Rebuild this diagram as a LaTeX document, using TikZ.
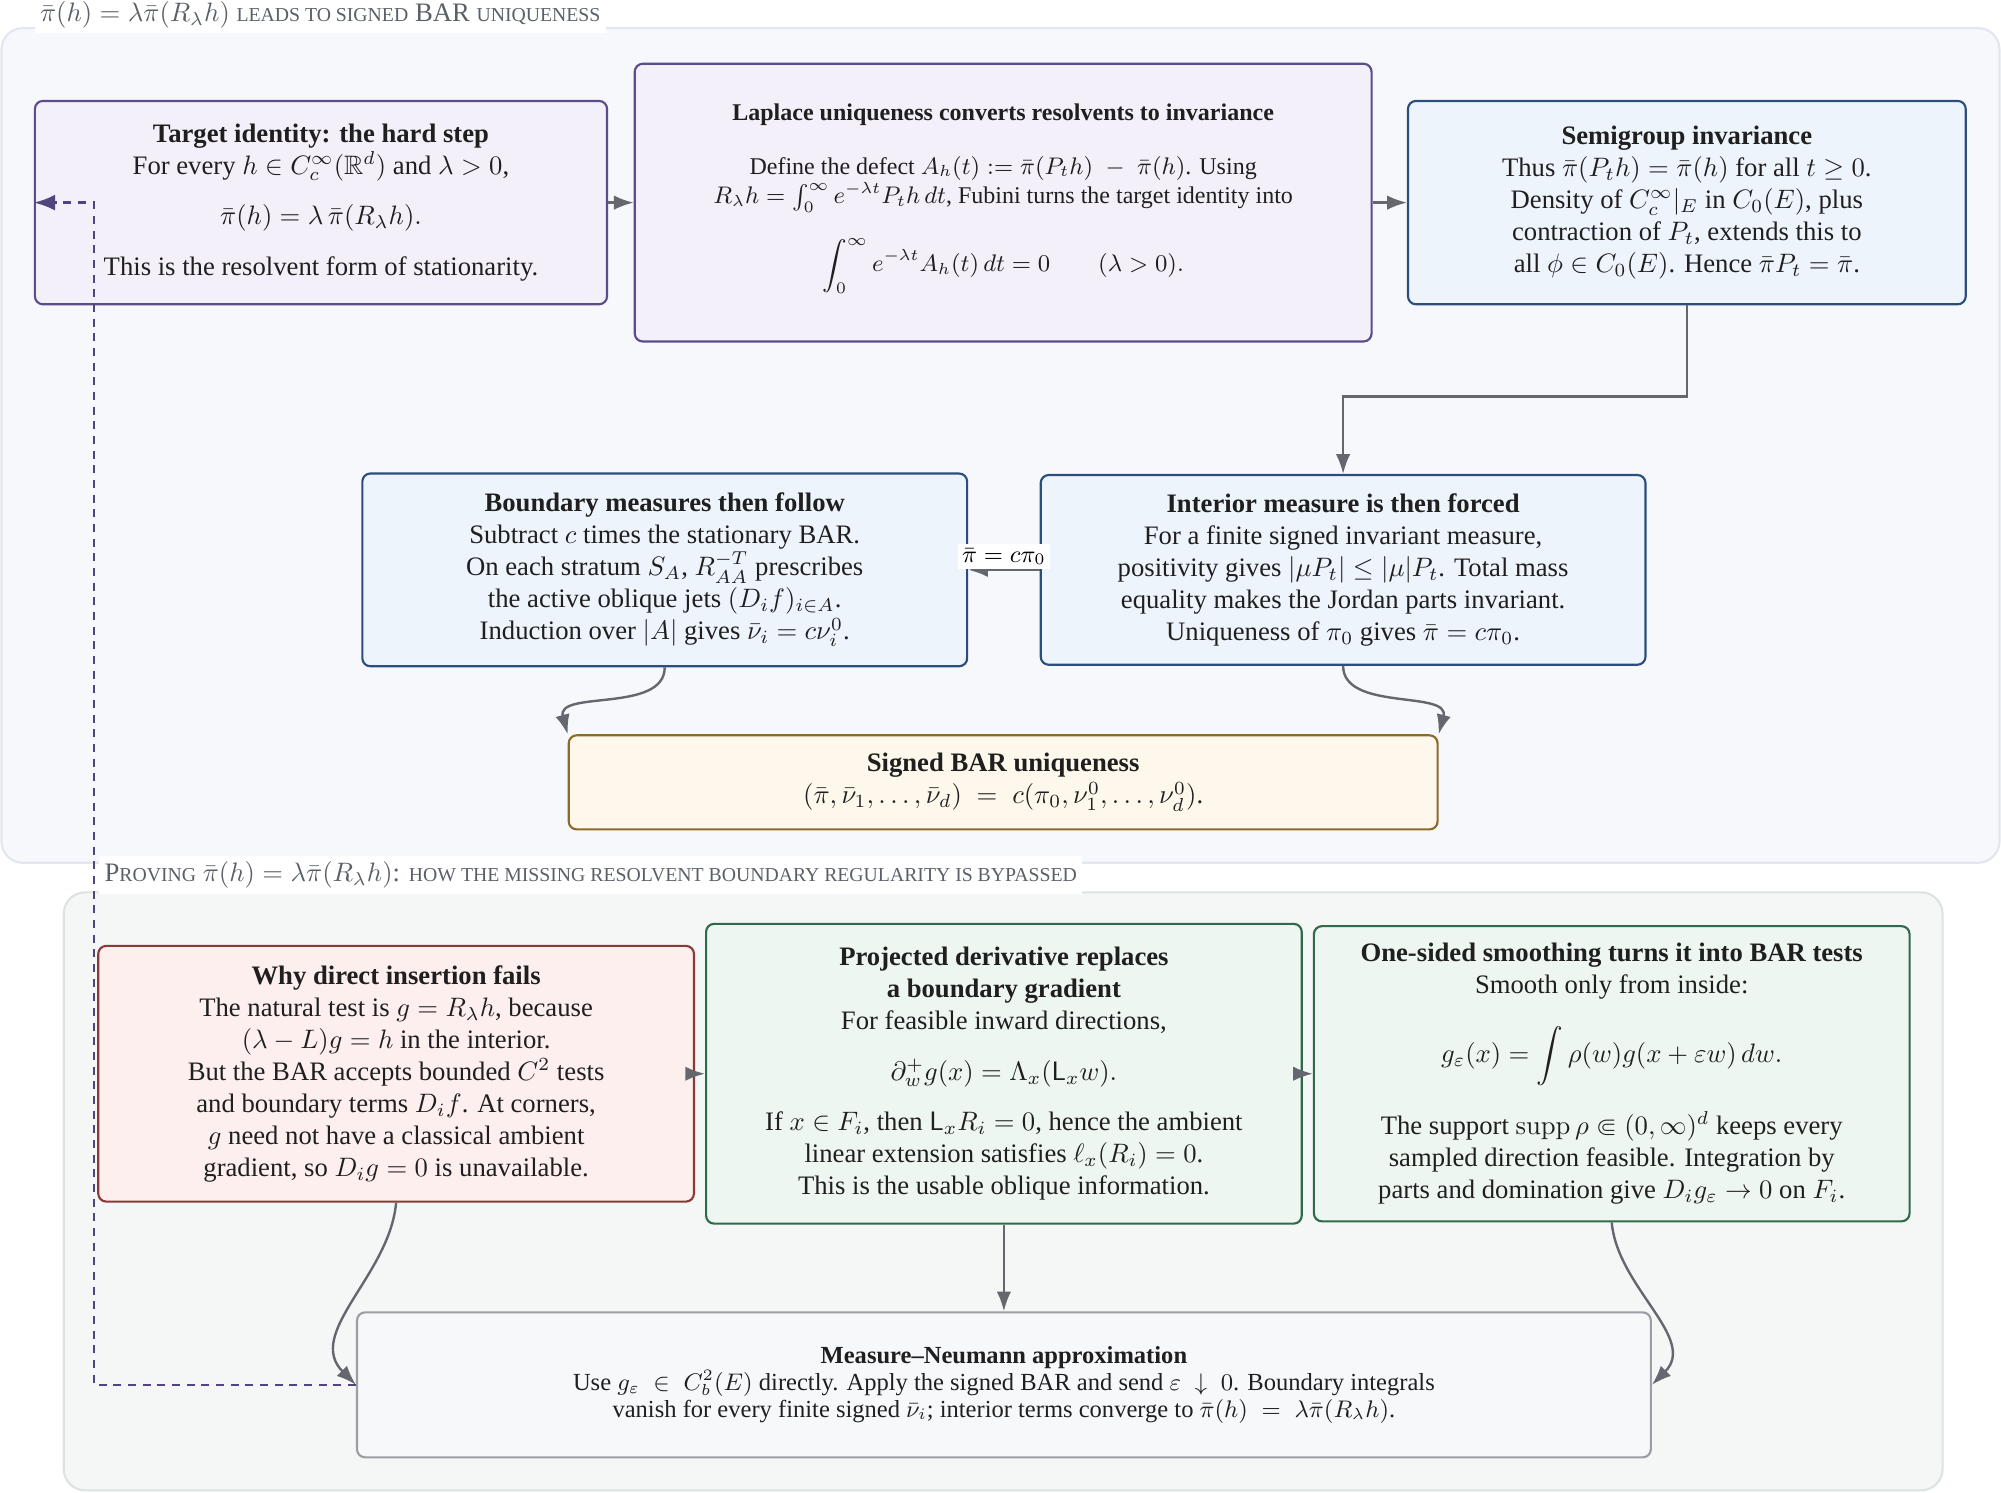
\documentclass[tikz,border=0pt]{standalone}
\usepackage{amsmath,amssymb}
\usepackage[no-math]{fontspec}
\setmainfont{Liberation Serif}
\usetikzlibrary{arrows.meta, positioning}

\definecolor{goalfill}{HTML}{F3F0FA}\definecolor{goalline}{HTML}{5E4B8B}
\definecolor{invfill}{HTML}{EEF4FC}\definecolor{invline}{HTML}{2C4E7E}
\definecolor{endfill}{HTML}{FDF8EB}\definecolor{endline}{HTML}{8C6A2A}
\definecolor{failfill}{HTML}{FCEFEE}\definecolor{failline}{HTML}{8A3A36}
\definecolor{fixfill}{HTML}{EEF6F2}\definecolor{fixline}{HTML}{2F6A4B}
\definecolor{approxfill}{HTML}{F7F8FA}\definecolor{approxline}{HTML}{9B9EA3}
\definecolor{flowgray}{HTML}{65676E}\definecolor{loopviolet}{HTML}{524480}
\definecolor{grpafill}{HTML}{F7F8FB}\definecolor{grpaline}{HTML}{E2E6EE}
\definecolor{grpbfill}{HTML}{F5F7F7}\definecolor{grpbline}{HTML}{DCE4E2}
\definecolor{titlegray}{HTML}{5B6068}

\newcommand{\smallcap}[1]{{\fontsize{7.4pt}{9pt}\selectfont\MakeUppercase{#1}}}

\begin{document}
\begin{tikzpicture}[font=\normalsize,card/.style={draw,rounded corners=3pt,line width=0.8pt,align=center,inner sep=4pt,text=black!88},goalcard/.style={card,draw=goalline,fill=goalfill},invcard/.style={card,draw=invline,fill=invfill},endcard/.style={card,draw=endline,fill=endfill},failcard/.style={card,draw=failline,fill=failfill},fixcard/.style={card,draw=fixline,fill=fixfill},approxcard/.style={card,draw=approxline,fill=approxfill},group/.style={rounded corners=8pt,line width=0.8pt},grouptitle/.style={fill=white,text=titlegray,anchor=west,inner sep=2pt},eqlabel/.style={fill=white,font=\small,inner sep=1.5pt},flow/.style={line width=0.9pt,draw=flowgray,-{Latex[length=2.6mm,width=1.9mm]}},loopback/.style={line width=1pt,draw=loopviolet,dash pattern=on 3pt off 2.5pt,-{Latex[length=2.8mm,width=2.1mm]}}]
\useasboundingbox (0,0) rectangle (26.37,-19.675);
% the two groups
\draw[group,draw=grpaline,fill=grpafill] (0.02,-0.37) rectangle (26.35,-11.37);
\draw[group,draw=grpbline,fill=grpbfill] (0.84,-11.76) rectangle (25.6,-19.64);
\node[grouptitle] (titlea) at (0.45,-0.19){$\bar\pi(h)=\lambda\bar\pi(R_\lambda h)$ \smallcap{leads to signed} BAR \smallcap{uniqueness}};
\node[grouptitle] (titleb) at (1.30,-11.53){P\smallcap{roving} $\bar\pi(h)=\lambda\bar\pi(R_\lambda h)$: \smallcap{how the missing resolvent boundary regularity is bypassed}};
% upper group
\node[goalcard, minimum width=7.54cm, minimum height=2.68cm] (tgt) at (4.23,-2.67){\textbf{Target identity: the hard step}\\ For every $h\in C_c^\infty(\mathbb{R}^d)$ and $\lambda>0$,\\[7pt] $\bar\pi(h)=\lambda\,\bar\pi(R_\lambda h).$\\[7pt] This is the resolvent form of stationarity.};
\node[goalcard, font=\small, minimum width=9.71cm, minimum height=3.66cm] (lap) at (13.22,-2.67){\textbf{Laplace uniqueness converts resolvents to invariance}\\[9pt] Define the defect $A_h(t):=\bar\pi(P_th)\;-\;\bar\pi(h)$. Using\\ $R_\lambda h=\int_0^\infty e^{-\lambda t}P_th\,dt$, Fubini turns the target identity into\\[9pt] $\displaystyle\int_0^\infty e^{-\lambda t}A_h(t)\,dt=0\qquad(\lambda>0).$\\ \mbox{}};
\node[invcard, minimum width=7.35cm, minimum height=2.68cm] (sem) at (22.23,-2.67){\textbf{Semigroup invariance}\\ Thus $\bar\pi(P_th)=\bar\pi(h)$ for all $t\ge0$.\\ Density of $C_c^\infty|_E$ in $C_0(E)$, plus\\ contraction of $P_t$, extends this to\\ all $\phi\in C_0(E)$. Hence $\bar\pi P_t=\bar\pi$.};
\node[invcard, minimum width=7.97cm, minimum height=2.54cm] (bnd) at (8.76,-7.51){\textbf{Boundary measures then follow}\\ Subtract $c$ times the stationary BAR.\\ On each stratum $S_A$, $R_{AA}^{-T}$ prescribes\\ the active oblique jets $(D_if)_{i\in A}$.\\ Induction over $|A|$ gives $\bar\nu_i=c\nu_i^0$.};
\node[invcard, minimum width=7.97cm, minimum height=2.50cm] (int) at (17.70,-7.51){\textbf{Interior measure is then forced}\\ For a finite signed invariant measure,\\ positivity gives $|\mu P_t|\le|\mu|P_t$. Total mass\\ equality makes the Jordan parts invariant.\\ Uniqueness of $\pi_0$ gives $\bar\pi=c\pi_0$.};
\node[endcard, minimum width=11.45cm, minimum height=1.24cm] (sig) at (13.22,-10.31){\textbf{Signed BAR uniqueness}\\ $(\bar\pi,\bar\nu_1,\dots,\bar\nu_d)\;=\;c(\pi_0,\nu_1^0,\dots,\nu_d^0)$.};
% lower group
\node[failcard, minimum width=7.85cm, minimum height=3.37cm] (why) at (5.22,-14.15){\textbf{Why direct insertion fails}\\ The natural test is $g=R_\lambda h$, because\\ $(\lambda-L)g=h$ in the interior.\\ But the BAR accepts bounded $C^2$ tests\\ and boundary terms $D_if$. At corners,\\ $g$ need not have a classical ambient\\ gradient, so $D_ig=0$ is unavailable.};
\node[fixcard, minimum width=7.85cm, minimum height=3.95cm] (prj) at (13.23,-14.15){\textbf{Projected derivative replaces}\\ \textbf{a boundary gradient}\\ For feasible inward directions,\\[7pt] $\partial_w^+g(x)=\Lambda_x(\mathsf{L}_xw).$\\[7pt] If $x\in F_i$, then $\mathsf{L}_xR_i=0$, hence the ambient\\ linear extension satisfies $\ell_x(R_i)=0$.\\ This is the usable oblique information.};
\node[fixcard, minimum width=7.85cm, minimum height=3.89cm] (one) at (21.24,-14.15){\textbf{One-sided smoothing turns it into BAR tests}\\ Smooth only from inside:\\[9pt] $\displaystyle g_\varepsilon(x)=\int\rho(w)g(x+\varepsilon w)\,dw.$\\[9pt] The support $\operatorname{supp}\rho\Subset(0,\infty)^d$ keeps every\\ sampled direction feasible. Integration by\\ parts and domination give $D_ig_\varepsilon\to0$ on $F_i$.};
\node[approxcard, font=\fontsize{9.2pt}{10pt}\selectfont, minimum width=17.05cm, minimum height=1.91cm] (mn) at (13.23,-18.25){\textbf{Measure--Neumann approximation}\\ Use $g_\varepsilon\;\in\;C_b^2(E)$ directly. Apply the signed BAR and send $\varepsilon\;\downarrow\;0$. Boundary integrals\\ vanish for every finite signed $\bar\nu_i$; interior terms converge to $\bar\pi(h)\;=\;\lambda\bar\pi(R_\lambda h)$.};
\coordinate (fbk) at (1.24,-2.67);
\draw[flow] (tgt) -- (lap); \draw[flow] (lap) -- (sem); \draw[flow] (sem.south) -- ++(0,-1.2) -| (int.north); \draw[flow] (int) -- node[above, eqlabel]{$\bar\pi=c\pi_0$} (bnd); \draw[flow] (bnd.south) to[out=-90,in=105] (sig.north west); \draw[flow] (int.south) to[out=-90,in=75] (sig.north east);
\draw[flow] (why) -- (prj); \draw[flow] (prj) -- (one); \draw[flow] (why.south) to[out=-95,in=135] (mn.west); \draw[flow] (prj) -- (mn); \draw[flow] (one.south) to[out=-85,in=45] (mn.east);
\draw[loopback] (mn.west) -| (fbk) -- (tgt.west);
\end{tikzpicture}
\end{document}
